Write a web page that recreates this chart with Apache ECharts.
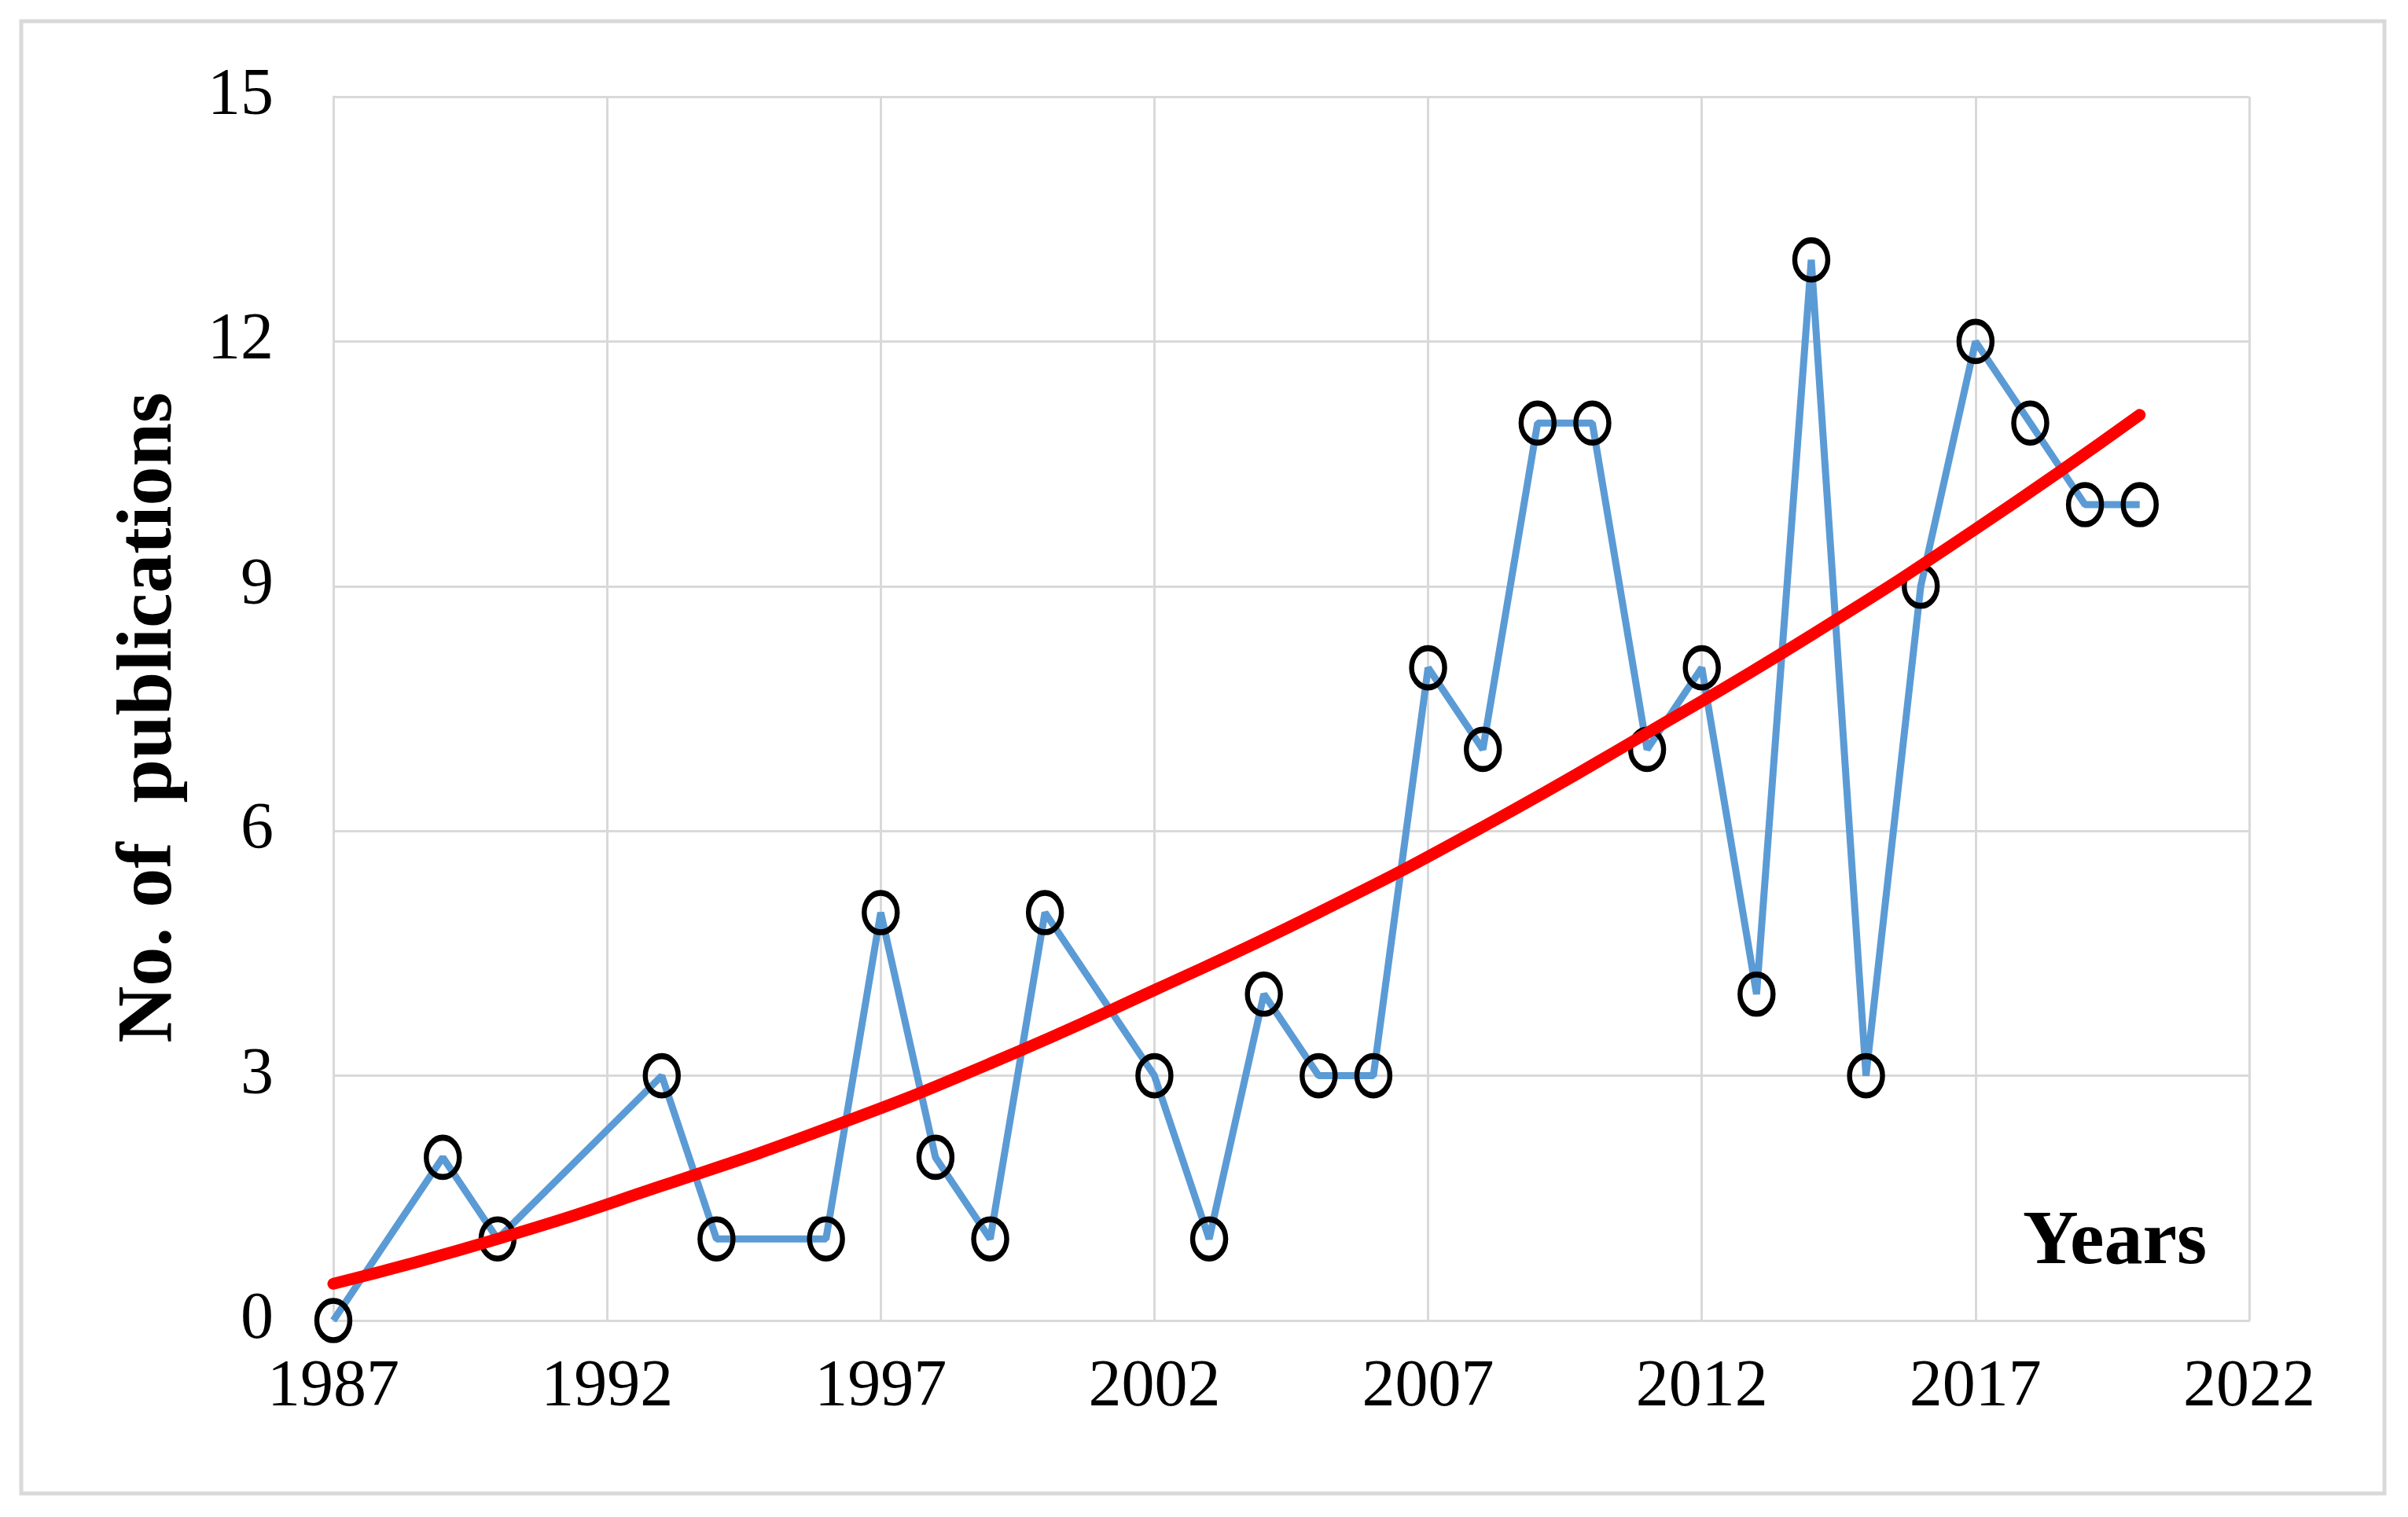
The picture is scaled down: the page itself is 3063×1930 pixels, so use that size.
<!DOCTYPE html>
<html>
<head>
<meta charset="utf-8">
<script src="https://cdn.jsdelivr.net/npm/echarts@6/dist/echarts.min.js"></script>
<style>html,body{margin:0;padding:0;background:#fff;}#chart{width:3063px;height:1930px;}</style>
</head>
<body>
<div id="chart"></div>
<script>
const years = [1987,1989,1990,1993,1994,1996,1997,1998,1999,2000,2002,2003,2004,2005,2006,2007,2008,2009,2010,2011,2012,2013,2014,2015,2016,2017,2018,2019,2020];
const publications = [0,2,1,3,1,1,5,2,1,5,3,1,4,3,3,8,7,11,11,7,8,4,13,3,9,12,11,10,10];
const trendYears = [1987,1990,1993,1996,1999,2002,2005,2008,2011,2014,2017,2020];
const trendValues = [0.45,1.0,1.65,2.35,3.15,4.05,5.0,6.05,7.2,8.4,9.7,11.1];
const xTicks = {min:1987, max:2022, step:5};
const yTicks = {min:0, max:15, step:3};
const yTitle = 'No. of  publications';
const xTitle = 'Years';

const FONT = "'Liberation Serif','Times New Roman',serif";
const chart = echarts.init(document.getElementById('chart'));
chart.setOption({
  animation:false,
  backgroundColor:'#ffffff',
  grid:{left:424,right:202,top:123,bottom:250,containLabel:false},
  xAxis:{type:'value',min:xTicks.min,max:xTicks.max,interval:xTicks.step,
    axisLine:{show:true,lineStyle:{color:'#d9d9d9',width:3}},
    axisTick:{show:false},
    splitLine:{show:true,lineStyle:{color:'#d9d9d9',width:3}},
    axisLabel:{fontFamily:FONT,fontSize:84,color:'#000',margin:44,formatter:v=>String(v)}},
  yAxis:{type:'value',min:yTicks.min,max:yTicks.max,interval:yTicks.step,
    axisLine:{show:true,lineStyle:{color:'#d9d9d9',width:3}},
    axisTick:{show:false},
    splitLine:{show:true,lineStyle:{color:'#d9d9d9',width:3}},
    axisLabel:{fontFamily:FONT,fontSize:84,color:'#000',margin:76}},
  graphic:[
    {type:'rect',shape:{x:27,y:27,width:3006,height:1873},style:{fill:'none',stroke:'#d9d9d9',lineWidth:5},z:-1},
    {type:'text',x:191,y:913,rotation:Math.PI/2,style:{text:yTitle,font:'bold 100px '+FONT,fill:'#000',align:'center',verticalAlign:'middle'}},
    {type:'text',x:2690,y:1582,style:{text:xTitle,font:'bold 98px '+FONT,fill:'#000',align:'center',verticalAlign:'middle'}}
  ],
  series:[
    {type:'line',data:years.map((y,i)=>[y,publications[i]]),
      lineStyle:{color:'#5b9bd5',width:9},
      symbol:'circle',symbolSize:[42,50],
      itemStyle:{color:'rgba(0,0,0,0)',borderColor:'#000',borderWidth:7},
      z:3},
    {type:'line',data:trendYears.map((y,i)=>[y,trendValues[i]]),smooth:true,
      showSymbol:false,symbol:'none',
      lineStyle:{color:'#ff0000',width:15,cap:'round'},z:4}
  ]
});
</script>
</body>
</html>
